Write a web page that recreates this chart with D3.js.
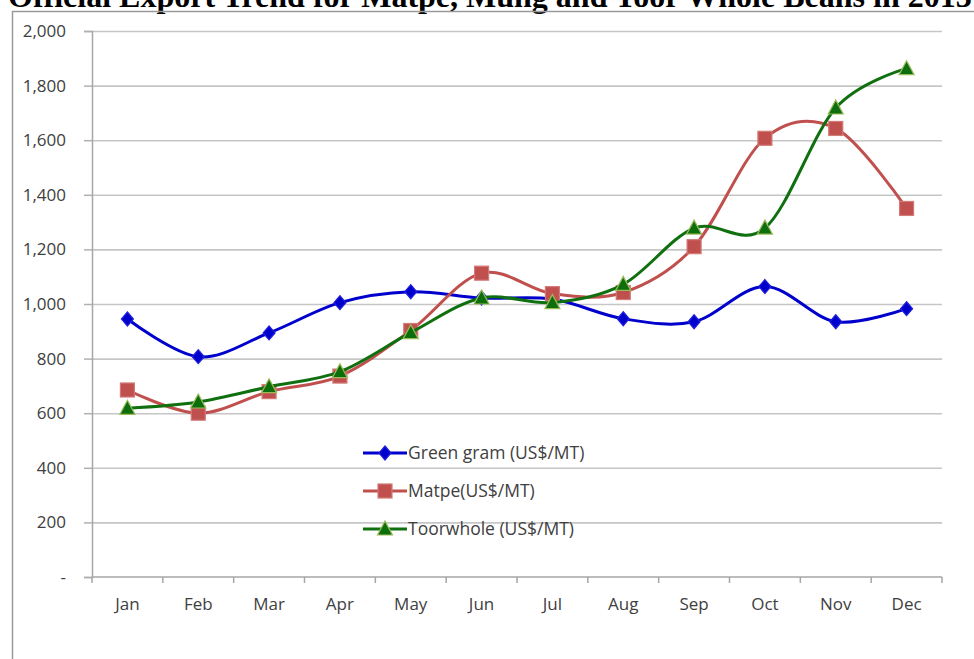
<!DOCTYPE html>
<html>
<head>
<meta charset="utf-8">
<script src="https://cdn.jsdelivr.net/npm/d3@7"></script>
<style>
  body { margin: 0; background: #fff; }
  svg { display: block; }
</style>
</head>
<body>
<div id="chart-area"></div>
<script>
// chart data
var title = "Official Export Trend for Matpe, Mung and Toor Whole Beans in 2013";
var months = ["Jan", "Feb", "Mar", "Apr", "May", "Jun", "Jul", "Aug", "Sep", "Oct", "Nov", "Dec"];
var greenGram = [945, 807, 894, 1005, 1045, 1022, 1018, 946, 935, 1064, 935, 983];
var matpe = [685, 600, 679, 736, 903, 1113, 1038, 1042, 1210, 1607, 1643, 1350];
var toorWhole = [618, 641, 697, 752, 895, 1022, 1005, 1072, 1278, 1278, 1718, 1862];
var yTicks = [0, 200, 400, 600, 800, 1000, 1200, 1400, 1600, 1800, 2000];
var seriesNames = ["Green gram (US$/MT)", "Matpe(US$/MT)", "Toorwhole (US$/MT)"];

var W = 974, H = 659;
var plot = {left: 92, right: 942, top: 31, bottom: 577};
var font = "'Open Sans', sans-serif";

var svg = d3.select("#chart-area").append("svg")
    .attr("width", W)
    .attr("height", H);

// title, clipped by the top of the page
svg.append("text")
    .attr("x", 8)
    .attr("y", 7)
    .attr("font-family", "'Liberation Serif', 'Times New Roman', serif")
    .attr("font-weight", "bold")
    .attr("font-size", "32px")
    .attr("fill", "#000")
    .text(title);

// chart frame (left and top edges)
svg.append("path")
    .attr("d", "M12.5," + H + "V11.5H" + W)
    .attr("fill", "none")
    .attr("stroke", "#9a9a9a")
    .attr("stroke-width", 1.5);

var x = d3.scaleBand().domain(months).range([plot.left, plot.right]);
var y = d3.scaleLinear().domain([0, 2000]).range([plot.bottom, plot.top]);
var cx = function(i) { return x(months[i]) + x.bandwidth() / 2; };

// gridlines
svg.append("g")
    .attr("transform", "translate(" + plot.left + ",0)")
    .call(d3.axisLeft(y).tickValues(yTicks.slice(1)).tickSize(-(plot.right - plot.left)).tickFormat(""))
    .call(function(g) {
        g.select(".domain").remove();
        g.selectAll("line").attr("stroke", "#c6c6c6").attr("stroke-width", 1.6);
    });

// y axis
svg.append("g")
    .attr("transform", "translate(" + plot.left + ",0)")
    .call(d3.axisLeft(y).tickValues(yTicks).tickSize(8).tickPadding(18)
        .tickFormat(function(d) { return d === 0 ? "-" : d3.format(",")(d); }))
    .call(function(g) {
        g.select(".domain").attr("stroke", "#a6a6a6").attr("stroke-width", 1.5);
        g.selectAll("line").attr("stroke", "#b0b0b0").attr("stroke-width", 1.5);
        g.selectAll("text")
            .attr("font-family", font)
            .attr("font-size", "17px")
            .attr("fill", "#404040");
    });

// x axis
var xAxis = svg.append("g")
    .attr("transform", "translate(0," + plot.bottom + ")");
xAxis.append("line")
    .attr("x1", plot.left).attr("x2", plot.right)
    .attr("stroke", "#a6a6a6").attr("stroke-width", 1.5);
xAxis.selectAll(".tick-mark")
    .data(d3.range(months.length + 1))
    .enter().append("line")
    .attr("class", "tick-mark")
    .attr("x1", function(i) { return plot.left + i * x.step(); })
    .attr("x2", function(i) { return plot.left + i * x.step(); })
    .attr("y1", 0).attr("y2", 6)
    .attr("stroke", "#a6a6a6").attr("stroke-width", 1.5);
xAxis.selectAll(".month")
    .data(months)
    .enter().append("text")
    .attr("class", "month")
    .attr("x", function(d) { return x(d) + x.bandwidth() / 2; })
    .attr("y", 33)
    .attr("text-anchor", "middle")
    .attr("font-family", font)
    .attr("font-size", "17px")
    .attr("fill", "#404040")
    .text(function(d) { return d; });

// series
var series = [
    {name: seriesNames[0], values: greenGram, color: "#0000cc", fill: "#0000cc", edge: "#2020dd", shape: "diamond"},
    {name: seriesNames[1], values: matpe, color: "#c0504d", fill: "#c0504d", edge: "#d27a77", shape: "square"},
    {name: seriesNames[2], values: toorWhole, color: "#107010", fill: "#0d6e0d", edge: "#9bbb59", shape: "triangle"}
];

var line = d3.line()
    .x(function(d, i) { return cx(i); })
    .y(function(d) { return y(d); })
    .curve(d3.curveCardinal.tension(0));

function drawMarker(sel, s) {
    if (s.shape === "diamond") {
        sel.append("path").attr("d", "M0,-7L6,0L0,7L-6,0Z");
    } else if (s.shape === "square") {
        sel.append("rect").attr("x", -7).attr("y", -7).attr("width", 14).attr("height", 14);
    } else {
        sel.append("path").attr("d", "M0,-8L7.5,6L-7.5,6Z");
    }
    sel.select("*")
        .attr("fill", s.fill)
        .attr("stroke", s.edge)
        .attr("stroke-width", 1.2);
}

series.forEach(function(s) {
    var g = svg.append("g");
    g.append("path")
        .datum(s.values)
        .attr("fill", "none")
        .attr("stroke", s.color)
        .attr("stroke-width", 3)
        .attr("d", line);
    g.selectAll(".marker")
        .data(s.values)
        .enter().append("g")
        .attr("class", "marker")
        .attr("transform", function(d, i) { return "translate(" + cx(i) + "," + y(d) + ")"; })
        .each(function() { drawMarker(d3.select(this), s); });
});

// legend
var legend = svg.append("g")
    .attr("transform", "translate(363,453)");
series.forEach(function(s, i) {
    var row = legend.append("g")
        .attr("transform", "translate(0," + (i * 38) + ")");
    row.append("line")
        .attr("x1", 0).attr("x2", 44)
        .attr("stroke", s.color)
        .attr("stroke-width", 3);
    var m = row.append("g").attr("transform", "translate(22,0)");
    drawMarker(m, s);
    row.append("text")
        .attr("x", 45)
        .attr("y", 6)
        .attr("font-family", font)
        .attr("font-size", "17.5px")
        .attr("fill", "#404040")
        .text(s.name);
});
</script>
</body>
</html>
